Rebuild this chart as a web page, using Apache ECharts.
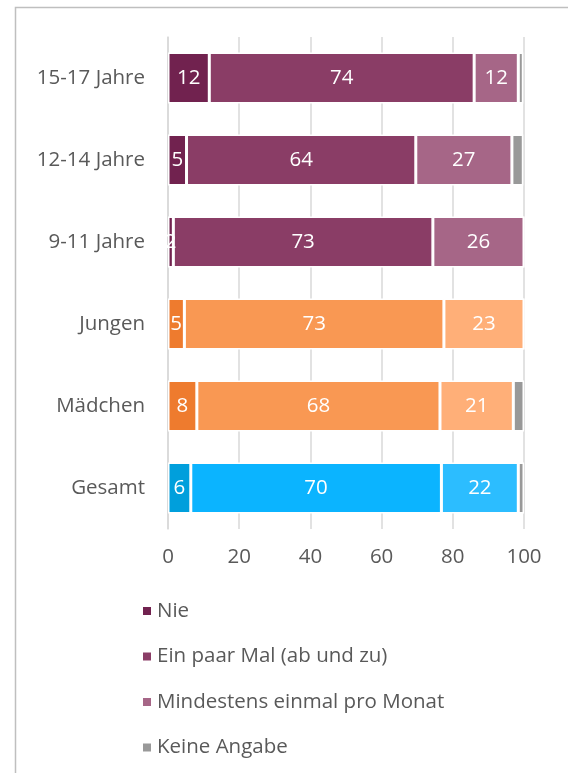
<!DOCTYPE html>
<html>
<head>
<meta charset="utf-8">
<script src="https://cdn.jsdelivr.net/npm/echarts@6/dist/echarts.min.js"></script>
<style>
  html, body { margin: 0; padding: 0; background: #fff; }
  #main { width: 568px; height: 773px; }
</style>
</head>
<body>
<div id="main"></div>
<script>
// Kategorien von oben nach unten
var categories = ['15-17 Jahre', '12-14 Jahre', '9-11 Jahre', 'Jungen', 'Mädchen', 'Gesamt'];
var seriesNames = ['Nie', 'Ein paar Mal (ab und zu)', 'Mindestens einmal pro Monat', 'Keine Angabe'];
var xTicks = [0, 20, 40, 60, 80, 100];

var nie = [11.6, 5.2, 1.5, 4.6, 8.1, 6.4];
var einPaarMal = [74.4, 64.4, 72.9, 72.9, 68.3, 70.4];
var mindestens = [12.4, 27.0, 25.6, 22.5, 20.6, 21.6];
var keineAngabe = [1.4, 3.2, 0, 0, 3.0, 1.6];

// Farbgruppe je Kategorie: 0 = Alter, 1 = Geschlecht, 2 = Gesamt
var groupOf = [0, 0, 0, 1, 1, 2];
var palette = [
  ['#71224f', '#8a3d66', '#a66687', '#999999'],
  ['#ee7b2e', '#f99853', '#ffaf78', '#999999'],
  ['#009fdc', '#0bb4ff', '#2cbdff', '#999999']
];

var values = [nie, einPaarMal, mindestens, keineAngabe];
var font = '"Open Sans", sans-serif';
var fs = 20.5;

var chart = echarts.init(document.getElementById('main'), null, { renderer: 'canvas' });

var series = values.map(function (vals, si) {
  return {
    name: seriesNames[si],
    type: 'bar',
    stack: 'total',
    barWidth: '62%',
    itemStyle: { color: palette[0][si], borderColor: '#fff', borderWidth: 1.5 },
    label: {
      show: si < 3,
      position: 'inside',
      color: '#fff',
      fontSize: fs,
      fontFamily: font,
      formatter: function (p) { return Math.round(p.value); }
    },
    data: vals.map(function (v, ci) {
      return { value: v, itemStyle: { color: palette[groupOf[ci]][si] } };
    })
  };
});

var option = {
  backgroundColor: '#ffffff',
  animation: false,
  graphic: [{
    type: 'rect',
    shape: { x: 15.5, y: 7.5, width: 600, height: 800 },
    style: { fill: 'none', stroke: '#bfbfbf', lineWidth: 1.5 },
    silent: true
  }],
  grid: { left: 168, right: 44, top: 37, bottom: 244, containLabel: false },
  legend: {
    orient: 'vertical',
    left: 136,
    top: 594,
    icon: 'rect',
    itemWidth: 10,
    itemHeight: 10,
    itemGap: 21.5,
    data: seriesNames,
    textStyle: { color: '#595959', fontSize: fs, fontFamily: font, lineHeight: 24 }
  },
  xAxis: {
    type: 'value',
    min: xTicks[0],
    max: xTicks[xTicks.length - 1],
    interval: 20,
    axisLine: { show: false },
    axisTick: { show: false },
    axisLabel: { color: '#595959', fontSize: fs, fontFamily: font, margin: 18 },
    splitLine: { show: true, lineStyle: { color: '#d9d9d9', width: 1.5 } }
  },
  yAxis: {
    type: 'category',
    inverse: true,
    data: categories,
    axisLine: { show: true, lineStyle: { color: '#d9d9d9', width: 1.5 } },
    axisTick: { show: false },
    axisLabel: { color: '#595959', fontSize: fs, fontFamily: font, margin: 23 }
  },
  series: series
};

chart.setOption(option);
</script>
</body>
</html>
